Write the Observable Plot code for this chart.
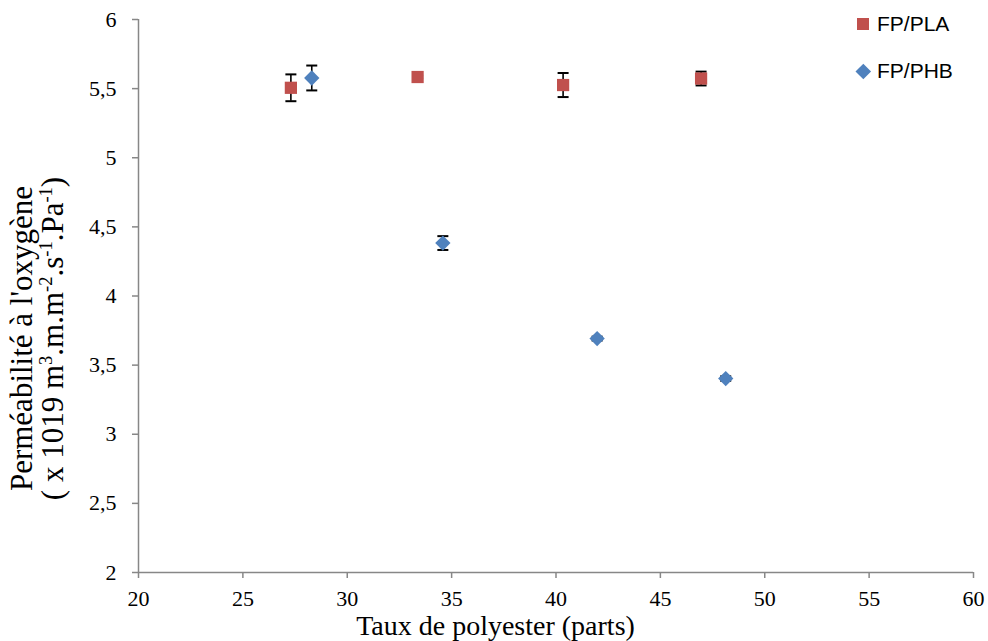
<!DOCTYPE html>
<html>
<head>
<meta charset="utf-8">
<script src="https://cdn.jsdelivr.net/npm/d3@7"></script>
<script src="https://cdn.jsdelivr.net/npm/@observablehq/plot@0.6"></script>
<style>
  html, body { margin: 0; padding: 0; background: white; }
  #wrap { position: relative; width: 988px; height: 641px; overflow: hidden; }
  .serif { font-family: "Liberation Serif", "Times New Roman", serif; color: black; }
  .sans { font-family: "Liberation Sans", Arial, sans-serif; color: black; }
  #wrap svg text { font-family: "Liberation Serif", "Times New Roman", serif; }
</style>
</head>
<body>
<div id="wrap"></div>
<script>
// ---- data ----
const series = ["FP/PLA", "FP/PHB"];
const seriesColors = ["#C0504D", "#4F81BD"];
const plaX = [27.3, 33.37, 40.34, 46.95];
const plaY = [5.506, 5.584, 5.526, 5.573];
const plaErr = [0.097, 0.01, 0.087, 0.05];
const phbX = [28.3, 34.58, 41.97, 48.13];
const phbY = [5.577, 4.383, 3.692, 3.403];
const phbErr = [0.09, 0.05, 0.014, 0.016];
const xTicks = [20, 25, 30, 35, 40, 45, 50, 55, 60];
const xTickLabels = ["20", "25", "30", "35", "40", "45", "50", "55", "60"];
const yTicks = [2, 2.5, 3, 3.5, 4, 4.5, 5, 5.5, 6];
const yTickLabels = ["2", "2,5", "3", "3,5", "4", "4,5", "5", "5,5", "6"];
const xTitle = "Taux de polyester (parts)";

// ---- build rows ----
const rows = [];
plaX.forEach((x, i) => rows.push({series: series[0], x, y: plaY[i], e: plaErr[i]}));
phbX.forEach((x, i) => rows.push({series: series[1], x, y: phbY[i], e: phbErr[i]}));
const caps = [];
rows.forEach(d => { caps.push({x: d.x, y: d.y - d.e}); caps.push({x: d.x, y: d.y + d.e}); });

const capSymbol = {
  draw(context, size) { context.moveTo(-5.5, 0); context.lineTo(5.5, 0); }
};

const axisGray = "#878787";
const serifFont = "Liberation Serif, Times New Roman, serif";

const chart = Plot.plot({
  width: 988,
  height: 641,
  marginLeft: 138,
  marginRight: 15,
  marginTop: 19,
  marginBottom: 69,
  x: {domain: [20, 60]},
  y: {domain: [2, 6]},
  color: {domain: series, range: seriesColors},
  symbol: {domain: series, range: ["square", "diamond2"]},
  style: {fontFamily: serifFont, fontSize: "22px", color: "black", background: "white"},
  marks: [
    Plot.ruleY([2], {stroke: axisGray, strokeWidth: 1.5}),
    Plot.ruleX([20], {stroke: axisGray, strokeWidth: 1.5}),
    Plot.axisX({ticks: xTicks, tickFormat: d => xTickLabels[xTicks.indexOf(d)], tickSize: 6, tickPadding: 11.5, fontSize: 22, fontFamily: serifFont, stroke: axisGray, strokeWidth: 1.5, fill: "black", label: null}),
    Plot.axisY({ticks: yTicks, tickFormat: d => yTickLabels[yTicks.indexOf(d)], tickSize: 6, tickPadding: 16, fontSize: 22, fontFamily: serifFont, stroke: axisGray, strokeWidth: 1.5, fill: "black", label: null}),
    Plot.ruleX(rows, {x: "x", y1: d => d.y - d.e, y2: d => d.y + d.e, stroke: "black", strokeWidth: 1.6}),
    Plot.dot(caps, {x: "x", y: "y", symbol: capSymbol, fill: "none", stroke: "black", strokeWidth: 2}),
    Plot.dot(rows, {x: "x", y: "y", symbol: "series", fill: "series", r: 6.9, stroke: "none"})
  ]
});

const wrap = document.getElementById("wrap");
chart.style.position = "absolute";
chart.style.left = "0px";
chart.style.top = "0px";
wrap.appendChild(chart);

// x title
const xt = document.createElement("div");
xt.className = "serif";
xt.textContent = xTitle;
Object.assign(xt.style, {position: "absolute", left: "0px", width: "991px", top: "615.6px", height: "20px", textAlign: "center", fontSize: "28px", lineHeight: "20px", whiteSpace: "nowrap"});
wrap.appendChild(xt);

// y title (two lines, rotated)
const yt = document.createElement("div");
yt.className = "serif";
yt.innerHTML = "<div>Perméabilité à l'oxygène</div><div>( x 1019 m<sup>3</sup>.m.m<sup>-2</sup>.s<sup>-1</sup>.Pa<sup>-1</sup>)</div>";
Object.assign(yt.style, {position: "absolute", left: (37 - 250) + "px", top: (338 - 30.5) + "px", width: "500px", height: "61px", textAlign: "center", fontSize: "31px", lineHeight: "30.5px", whiteSpace: "nowrap", transform: "rotate(-90deg)"});
yt.querySelectorAll("sup").forEach(s => { s.style.fontSize = "18.5px"; s.style.lineHeight = "0"; s.style.verticalAlign = "11px"; });
wrap.appendChild(yt);

// legend
function legendItem(label, color, shape, cy) {
  const sw = document.createElement("div");
  if (shape === "square") {
    Object.assign(sw.style, {position: "absolute", left: "857px", top: (cy - 6) + "px", width: "12px", height: "12px", background: color});
  } else {
    Object.assign(sw.style, {position: "absolute", left: (863 - 5.3) + "px", top: (cy - 5.3) + "px", width: "10.6px", height: "10.6px", background: color, transform: "rotate(45deg)"});
  }
  wrap.appendChild(sw);
  const t = document.createElement("div");
  t.className = "sans";
  t.textContent = label;
  Object.assign(t.style, {position: "absolute", left: "877px", top: (cy - 12) + "px", height: "24px", lineHeight: "24px", fontSize: "21px", whiteSpace: "nowrap"});
  wrap.appendChild(t);
}
legendItem(series[0], seriesColors[0], "square", 24);
legendItem(series[1], seriesColors[1], "diamond", 71);
</script>
</body>
</html>
